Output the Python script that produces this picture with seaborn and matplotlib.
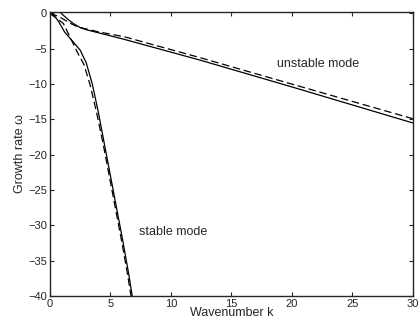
import pandas as pd
import matplotlib
matplotlib.use("Agg")
import matplotlib.pyplot as plt
import seaborn as sns

# unstable mode, solid and dashed curves
k_unstable = [0, 0.4, 0.8, 1.2, 1.6, 2.0, 2.5, 3.0, 6.0, 12.4, 20, 30]
w_unstable = [0, 0.3, 0.2, -0.4, -1.0, -1.5, -2.0, -2.3, -3.6, -6.6, -10.4, -15.5]
k_unstable_d = [0, 0.7, 1.2, 1.8, 2.3, 4.0, 6.15, 12.4, 20, 30]
w_unstable_d = [0, -0.4, -0.9, -1.5, -1.9, -2.6, -3.3, -6.25, -10.0, -14.9]

# stable mode, solid and dashed curves
k_stable = [0, 0.35, 0.7, 1.2, 1.8, 2.5, 3.0, 3.5, 4.0, 4.5, 5.0, 5.5, 6.0, 6.5, 6.8]
w_stable = [0, -0.3, -1.1, -2.6, -3.8, -5.2, -7.0, -10, -14, -18.5, -23, -27.5, -32, -36.8, -40]
k_stable_d = [0, 0.4, 1.1, 1.7, 2.3, 2.8, 3.3, 3.85, 4.4, 4.9, 5.4, 5.9, 6.4, 6.7]
w_stable_d = [0, -0.5, -1.4, -3.5, -5.6, -7.2, -10, -14, -18.5, -23, -27.5, -32, -36.8, -40]

x_ticks = [0, 5, 10, 15, 20, 25, 30]
y_ticks = [0, -5, -10, -15, -20, -25, -30, -35, -40]

sns.set_style("ticks")
plt.rcParams['font.family'] = ['Liberation Sans', 'DejaVu Sans']

fig = plt.figure(figsize=(4.2, 3.26), dpi=100)
ax = fig.add_axes([0.119, 0.092, 0.864, 0.871])

curves = [
    (k_unstable, w_unstable, "-"),
    (k_unstable_d, w_unstable_d, "--"),
    (k_stable, w_stable, "-"),
    (k_stable_d, w_stable_d, "--"),
]
for kk, ww, ls in curves:
    df = pd.DataFrame({"k": kk, "w": ww})
    sns.lineplot(data=df, x="k", y="w", ax=ax, color="black", linewidth=0.9,
                 linestyle=ls, sort=False, estimator=None)
    if ls == "--":
        ax.lines[-1].set_dashes((6, 3))

ax.set_xlim(0, 30)
ax.set_ylim(-40, 0.2)
ax.set_xticks(x_ticks)
ax.set_yticks(y_ticks)
ax.set_yticklabels([str(t).replace("-", "\u2212") for t in y_ticks])
ax.tick_params(direction="in", length=3, width=0.8, labelsize=8, top=True, right=True, pad=2)
for s in ax.spines.values():
    s.set_linewidth(1.0)

ax.set_xlabel("Wavenumber k", fontsize=9, labelpad=-1)
ax.set_ylabel("Growth rate \u03c9", fontsize=9, labelpad=2)

ax.text(22.2, -7.2, "unstable mode", fontsize=9, ha="center", va="center")
ax.text(7.4, -31, "stable mode", fontsize=9, ha="left", va="center")

fig.savefig("out.png", dpi=100)
